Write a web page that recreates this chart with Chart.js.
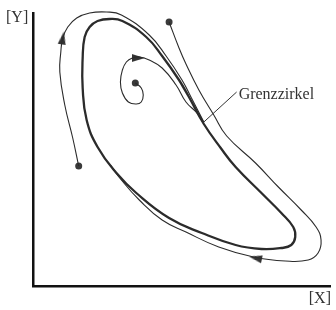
<!DOCTYPE html>
<html>
<head>
<meta charset="utf-8">
<script src="https://cdn.jsdelivr.net/npm/chart.js@4/dist/chart.umd.min.js"></script>
<style>
  body { margin: 0; background: #fff; }
  canvas { display: block; }
</style>
</head>
<body>
<canvas id="phaseChart" width="336" height="310"></canvas>
<script>
// Phasenporträt mit Grenzzirkel (Werte in willkürlichen Einheiten)
const limitCycle = [
    [147, 206], [157, 189], [172, 162], [189, 138], [204, 119], [230, 93], [250, 73],
    [262, 59], [264, 49], [260, 41], [250, 38], [230, 37], [204, 41], [170, 53],
    [137, 68], [104, 93], [84, 113], [65, 139], [54, 166], [50, 198], [50, 228],
    [52, 249], [57, 259], [65, 265], [77, 267], [90, 265], [114, 249], [130, 230],
    [147, 206], [157, 189], [172, 162]
];
const outerPath = [
    [137, 264], [147, 238], [154, 222], [167, 196], [182, 171], [195, 150], [224, 123],
    [247, 99], [270, 76], [285, 59], [290, 46], [287, 33], [277, 26], [254, 25],
    [222, 29], [187, 39], [154, 54], [130, 66], [107, 86], [89, 106], [78, 121]
];
const leftPath = [
    [46, 120], [40, 148], [32, 181], [27, 214], [28, 234], [30, 248], [35, 259],
    [44, 268], [57, 273], [74, 274], [89, 271], [117, 251], [134, 230], [150, 206],
    [159, 189], [172, 164]
];
const spiralPath = [
    [103, 203], [109, 198], [111, 191], [109, 184], [104, 182], [96, 184], [90, 193],
    [88, 204], [90, 216], [94, 224], [100, 228], [107, 229], [117, 226], [130, 218],
    [144, 201], [154, 184], [165, 173], [172, 162]
];
const startDots = [[137, 264], [46, 120], [103, 203]];
const arrowPos = [[224, 28], [30, 248], [106, 228]];
const arrowRot = [282, 10, 90];
const cycleLabel = 'Grenzzirkel';
const labelAnchor = [172, 164]; // Punkt am Grenzzirkel, auf den der Strich zeigt
const labelAt = [205, 194];

const toXY = pts => pts.map(p => ({ x: p[0], y: p[1] }));

// kleine Pfeilspitze als Punktstil
const arrowImg = document.createElement('canvas');
arrowImg.width = 8;
arrowImg.height = 13;
const actx = arrowImg.getContext('2d');
actx.fillStyle = '#333';
actx.beginPath();
actx.moveTo(4, 0);
actx.lineTo(8, 13);
actx.lineTo(0, 13);
actx.closePath();
actx.fill();

function curve(data, width) {
    return {
        data: toXY(data),
        showLine: true,
        borderColor: '#2b2b2b',
        borderWidth: width,
        tension: 0.45,
        pointRadius: 0,
        clip: false
    };
}

const textPlugin = {
    id: 'textPlugin',
    afterDraw(chart) {
        const ctx = chart.ctx;
        const xs = chart.scales.x, ys = chart.scales.y;
        ctx.save();
        ctx.fillStyle = '#333';
        ctx.font = '16px "Liberation Serif", "DejaVu Serif", serif';
        ctx.textBaseline = 'alphabetic';
        ctx.textAlign = 'left';
        ctx.fillText('[Y]', 6, 22);
        ctx.textAlign = 'right';
        ctx.fillText('[X]', 331, 303);

        const x0 = xs.getPixelForValue(labelAnchor[0]), y0 = ys.getPixelForValue(labelAnchor[1]);
        const x1 = xs.getPixelForValue(labelAt[0]), y1 = ys.getPixelForValue(labelAt[1]);
        ctx.strokeStyle = '#333';
        ctx.lineWidth = 1;
        ctx.beginPath();
        ctx.moveTo(x0, y0);
        ctx.lineTo(x1, y1);
        ctx.stroke();
        ctx.textAlign = 'left';
        ctx.fillText(cycleLabel, x1 + 2, y1 + 7);
        ctx.restore();
    }
};

new Chart(document.getElementById('phaseChart'), {
    type: 'scatter',
    data: {
        datasets: [
            curve(limitCycle, 2.3),
            curve(outerPath, 1.1),
            curve(leftPath, 1.1),
            curve(spiralPath, 1.1),
            {
                data: toXY(startDots),
                pointRadius: 3.5,
                pointBackgroundColor: '#3a3a3a',
                pointBorderWidth: 0,
                clip: false
            },
            {
                data: toXY(arrowPos),
                pointStyle: arrowImg,
                rotation: arrowRot,
                pointRadius: 5,
                clip: false
            }
        ]
    },
    options: {
        responsive: false,
        animation: false,
        layout: { padding: { left: 33, top: 13, right: 4, bottom: 24 } },
        plugins: { legend: { display: false }, tooltip: { enabled: false } },
        scales: {
            x: {
                min: 0, max: 299,
                grid: { display: false, drawTicks: false },
                ticks: { display: false },
                border: { color: '#111', width: 2.5 }
            },
            y: {
                min: 0, max: 273,
                grid: { display: false, drawTicks: false },
                ticks: { display: false },
                border: { color: '#111', width: 2.5 }
            }
        }
    },
    plugins: [textPlugin]
});
</script>
</body>
</html>
